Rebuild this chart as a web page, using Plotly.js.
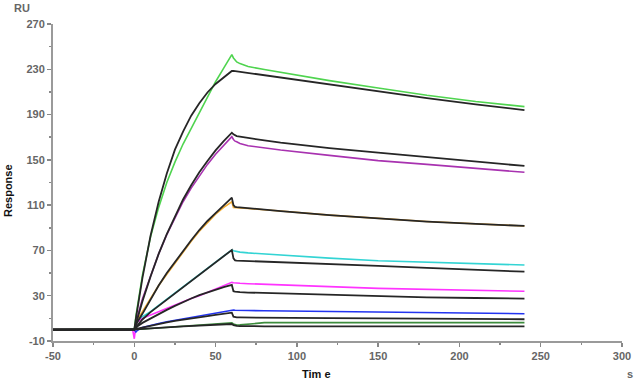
<!DOCTYPE html>
<html>
<head>
<meta charset="utf-8">
<script src="https://cdn.plot.ly/plotly-3.0.1.min.js"></script>
<style>html,body{margin:0;padding:0;background:#fff;}#chart{width:635px;height:382px;}</style>
</head>
<body>
<div id="chart"></div>
<script>
// Time grid (s)
const timeS = [-50,-1,0,1,2,5,10,15,20,25,30,35,40,45,50,55,60,61,62,63,65,70,80,90,120,150,180,210,240];

// Measured curves (RU)
const greenCurve   = [0,0,0,12,22,48,82,108,130,148,164,178,192,206,219,231,243,240,238,236.5,235,232.5,229.8,227.2,220,213.5,207,201.5,197];
const purpleCurve  = [0,0,0,6,12,27,48,67,84,99,113,125,136,146,155,163,170.5,168,166.5,166,164.5,162.5,160.5,158.7,154,149.3,146,142.5,139];
const orangeCurve  = [0,0,0,6,9,16,28,39,49,59,69,78,87,95,102,108,113,108,107.8,107.7,107.5,107,106,104.8,101.2,98.2,95.5,93.5,91.6];
const cyanCurve    = [0,0,0,5,8,11.5,16,21.5,27,32.5,38,43.5,49,54.5,60,65,70.5,69.8,69.3,69,68.5,67.8,66.8,65.8,63.2,60.9,59.5,58.3,57.1];
const magentaCurve = [0,0,-8,4,7,10,13,16,18.5,21.5,24.5,27.5,30,33,36,39,41.8,41.5,41.3,41.2,41,40.6,40,39.5,38,36.5,35.5,34.7,33.9];
const blueCurve    = [0,0,0,-2,-0.5,2,4,5.5,7,8.3,9.5,10.7,12,13.5,15,16.2,17.4,17.4,17.2,17.1,17,16.9,16.7,16.5,16,15.3,15,14.5,14.1];
const dkgreenCurve = [0,0,0,0.2,0.3,0.5,1,1.5,2,2.5,3,3.5,4,4.5,5,5.5,6,5,4.5,4.1,4.2,5,6.2,6.2,6.2,6.2,6.2,6.2,6.2];

// Fitted curves (RU)
const fit1 = [0,0,0,10,19,45.5,83,113,138,159,175,189,200,209.5,217,223,228.5,228.6,228.4,228.2,227.8,226.5,224.5,222.5,216.5,210.5,204.5,199,194];
const fit2 = [0,0,0,5,10,25,47,67,84.5,100,115,127.5,139,149,158.4,166.6,174,172.5,171.5,171,170.5,169.3,167.2,165.2,160.4,156.3,152.3,148.4,144.6];
const fit3 = [0,0,0,4,7,14,27,39,50,60,70,79,88,96,103,110,116.6,110,108.5,108.2,108,107.3,106,104.8,101.2,98.2,95.5,93.5,91.6];
const fit4 = [0,0,0,2,4,9,15.5,21,27,32.5,38,43.5,49,54.5,60,65.3,70.4,63,61.2,61,60.9,60.6,60,59.5,58,56.3,54.6,52.9,51.2];
const fit5 = [0,0,0,1.5,3,6,10,14,17.5,21,24.5,27.5,30.5,33,35.5,37.5,39.5,34,33.6,33.4,33.2,32.8,32.4,32,30.6,29.2,28.5,28,27.4];
const fit6 = [0,0,0,0.5,1,2,3.5,5,6.5,7.8,9,10,11,12,13,14,15,11.5,10.9,10.8,10.8,10.7,10.6,10.5,10.2,10,9.6,9.4,9.2];
const fit7 = [0,0,0,0.2,0.3,0.7,1,1.5,2,2.5,3,3.4,3.8,4.2,4.5,4.8,5,4,3.5,3.3,3.2,3,3,3,3,3,3,3,3];

const xTicks = [-50,0,50,100,150,200,250,300];
const yTicks = [-10,30,70,110,150,190,230,270];

const measured = [
  [greenCurve,'#4fd44f'],[purpleCurve,'#a832b0'],[orangeCurve,'#f2ac33'],
  [cyanCurve,'#33d4d4'],[magentaCurve,'#ff33ff'],[blueCurve,'#2233f0'],[dkgreenCurve,'#3d8c3d']
];
const fits = [fit1,fit2,fit3,fit4,fit5,fit6,fit7];

const traces = [];
measured.forEach(([v,c]) => traces.push({x:timeS,y:v,type:'scatter',mode:'lines',line:{color:c,width:1.6},hoverinfo:'skip'}));
fits.forEach(v => traces.push({x:timeS,y:v,type:'scatter',mode:'lines',line:{color:'#262626',width:1.8},hoverinfo:'skip'}));

const tickFont = {family:'Arial, Liberation Sans, sans-serif', size:11, color:'#666', weight:'bold'};
const W = 569, H = 317;

const layout = {
  width:635, height:382,
  margin:{l:53, r:13, t:24, b:41},
  paper_bgcolor:'#fff', plot_bgcolor:'#fff',
  showlegend:false,
  xaxis:{range:[-50,300], tickvals:xTicks, ticktext:xTicks.map(String), showgrid:false, zeroline:false,
    showline:true, linecolor:'#9a9a9a', linewidth:2, ticks:'outside', ticklen:4, tickcolor:'#888', tickwidth:1.5,
    tickfont:tickFont,
    minor:{dtick:25, tick0:-25, ticks:'outside', ticklen:2, tickcolor:'#888', tickwidth:1.5, showgrid:false}},
  yaxis:{range:[-10,270], tickvals:yTicks, ticktext:yTicks.map(String), showgrid:false, zeroline:false,
    showline:true, linecolor:'#9a9a9a', linewidth:2, ticks:'outside', ticklen:4, tickcolor:'#888', tickwidth:1.5,
    tickfont:tickFont,
    minor:{dtick:20, tick0:10, ticks:'outside', ticklen:2, tickcolor:'#888', tickwidth:1.5, showgrid:false}},
  annotations:[
    {text:'RU', xref:'paper', yref:'paper', x:(22-53)/W, y:(341-8)/H, showarrow:false, xanchor:'center', yanchor:'middle',
     font:{family:'Arial, Liberation Sans, sans-serif', size:11, color:'#666', weight:'bold'}},
    {text:'Response', xref:'paper', yref:'paper', x:(8-53)/W, y:(341-191)/H, showarrow:false, textangle:-90, xanchor:'center', yanchor:'middle',
     font:{family:'Arial, Liberation Sans, sans-serif', size:11, color:'#111', weight:'bold'}},
    {text:'Tim e', xref:'paper', yref:'paper', x:(316-53)/W, y:(341-374)/H, showarrow:false, xanchor:'center', yanchor:'middle',
     font:{family:'Arial, Liberation Sans, sans-serif', size:11, color:'#111', weight:'bold'}},
    {text:'s', xref:'paper', yref:'paper', x:(630-53)/W, y:(341-374)/H, showarrow:false, xanchor:'center', yanchor:'middle',
     font:{family:'Arial, Liberation Sans, sans-serif', size:11, color:'#666', weight:'bold'}}
  ]
};

Plotly.newPlot('chart', traces, layout, {displayModeBar:false, staticPlot:true});
</script>
</body>
</html>
